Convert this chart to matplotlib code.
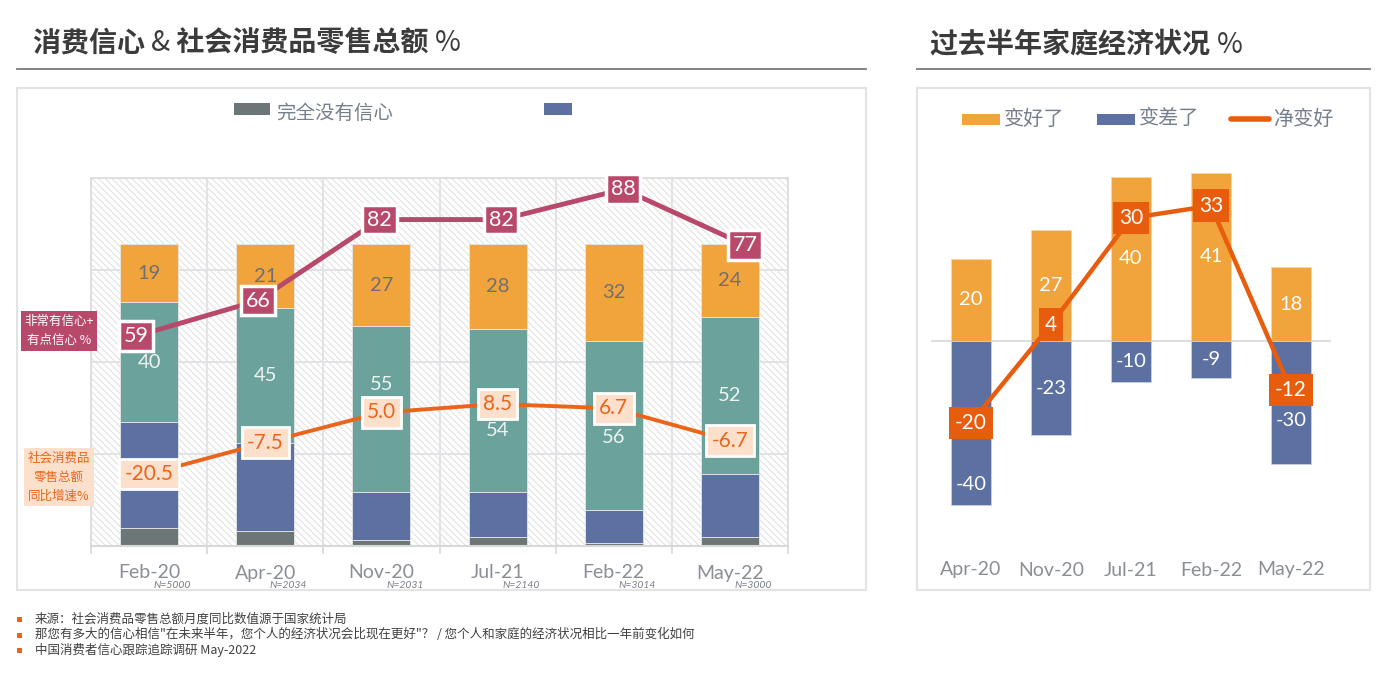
import matplotlib
matplotlib.use("Agg")
import matplotlib.pyplot as plt
from matplotlib.patches import Rectangle
from matplotlib.lines import Line2D
import numpy as np

plt.rcParams['font.family'] = ['Lato', 'Noto Sans CJK SC', 'DejaVu Sans']
plt.rcParams['hatch.linewidth'] = 0.8
plt.rcParams['hatch.color'] = '#e2e2e2'

# ---------------- data ----------------
left_cats = ["Feb-20", "Apr-20", "Nov-20", "Jul-21", "Feb-22", "May-22"]
left_n = ["N=5000", "N=2034", "N=2031", "N=2140", "N=3014", "N=3000"]
no_conf = [6, 5, 2, 3, 1, 3]          # 完全没有信心
low_conf = [35, 29, 16, 15, 11, 21]   # 不太有信心
some_conf = [40, 45, 55, 54, 56, 52]  # 有点信心
very_conf = [19, 21, 27, 28, 32, 24]  # 非常有信心
conf_total = [59, 66, 82, 82, 88, 77]
retail = [-20.5, -7.5, 5.0, 8.5, 6.7, -6.7]

right_cats = ["Apr-20", "Nov-20", "Jul-21", "Feb-22", "May-22"]
better = [20, 27, 40, 41, 18]
worse = [-40, -23, -10, -9, -30]
net = [-20, 4, 30, 33, -12]

footer = [
    "来源：社会消费品零售总额月度同比数值源于国家统计局",
    "那您有多大的信心相信\"在未来半年，您个人的经济状况会比现在更好\"？ / 您个人和家庭的经济状况相比一年前变化如何",
    "中国消费者信心跟踪追踪调研 May-2022",
]

# ---------------- styles ----------------
C_GRAY = '#6d7677'
C_BLUE = '#5c71a2'
C_TEAL = '#6ba39c'
C_ORANGE = '#f1a33c'
C_MAG = '#b9496b'
C_RET = '#ea651b'
C_PEACH = '#fde0cc'
C_NET = '#e85c0e'
W, H = 1380, 690

fig = plt.figure(figsize=(13.8, 6.9), dpi=100)

def fx(x):
    return x / W

def fy(y):
    return 1 - y / H

# panel frames
for (x0, y0, x1, y1) in [(17, 88, 866, 590), (917, 88, 1370, 590)]:
    fig.patches.append(Rectangle((fx(x0), fy(y1)), fx(x1 - x0), (y1 - y0) / H,
                                 transform=fig.transFigure, fill=False,
                                 ec='#e3e3e3', lw=1.5))
# title underlines
for (x0, x1) in [(17, 866), (917, 1370)]:
    fig.lines.append(Line2D([fx(x0), fx(x1)], [fy(69), fy(69)],
                            transform=fig.transFigure, color='#7a7a7a', lw=1.3))

# titles composed of pieces
fig.canvas.draw()
renderer = fig.canvas.get_renderer()

def pieces(x, y, parts, size, color='#3b3b3b'):
    cur = x
    for txt, wt in parts:
        t = fig.text(fx(cur), fy(y), txt, fontsize=size, fontweight=wt, color=color,
                     family=['Noto Sans CJK SC', 'DejaVu Sans'], va='center', ha='left')
        bb = t.get_window_extent(renderer=renderer)
        cur += bb.width

pieces(33, 43, [("消费信心 ", 'bold'), ("&", 'light'), (" 社会消费品零售总额 ", 'bold'), ("%", 'light')], 20.2)
pieces(930, 45, [("过去半年家庭经济状况 ", 'bold'), ("%", 'light')], 20.2)

# ---------------- left chart ----------------
axL = fig.add_axes([fx(91), fy(546), fx(788 - 91), (546 - 178) / H])
x = np.arange(len(left_cats))
axL.set_xlim(-0.5, 5.5)
axL.set_ylim(0, 122)
axL.add_patch(Rectangle((0, 0), 1, 1, transform=axL.transAxes, fc='white',
                        ec='#e2e2e2', hatch='\\\\\\\\\\', lw=0, zorder=0))
axL.set_yticks(np.linspace(0, 122, 5))
axL.set_xticks(np.arange(-0.5, 6, 1.0))
axL.grid(True, color='#dfe1e4', lw=1.3, zorder=0.5)
axL.set_axisbelow(True)
axL.tick_params(axis='y', length=0, labelleft=False)
axL.tick_params(axis='x', length=6, color='#d8d8d8', width=1.2, labelbottom=False)
for s in ['left', 'right', 'top']:
    axL.spines[s].set_color('#dcdcdc')
    axL.spines[s].set_linewidth(1.2)
axL.spines['bottom'].set_color('#d8d8d8')
axL.spines['bottom'].set_linewidth(1.5)

bw = 0.5
b0 = np.zeros(len(x))
for vals, col in [(no_conf, C_GRAY), (low_conf, C_BLUE), (some_conf, C_TEAL), (very_conf, C_ORANGE)]:
    axL.bar(x, vals, bw, bottom=b0, color=col, ec='#e6e6e6', lw=0.6, zorder=2)
    b0 = b0 + np.array(vals)

# segment labels
base_some = np.array(no_conf) + np.array(low_conf)
some_off = [0, 0, 8, -6.6, -4, 0]
for i in range(len(x)):
    axL.text(x[i], base_some[i] + some_conf[i] / 2 + some_off[i], str(some_conf[i]),
             ha='center', va='center', fontsize=14.5, color='#eef3f2', zorder=3)
    top0 = base_some[i] + some_conf[i]
    axL.text(x[i], top0 + very_conf[i] / 2, str(very_conf[i]),
             ha='center', va='center', fontsize=14.5, color='#707070', zorder=3)

# retail growth line (category centers)
axR = axL.twinx()
axR.set_ylim(-50.4, 102.3)
axR.set_xlim(-0.5, 5.5)
axR.axis('off')
axR.plot(x, retail, color=C_RET, lw=2.8, zorder=4, solid_capstyle='round')
for i, v in enumerate(retail):
    axR.text(x[i], v, f"{v:.1f}", ha='center', va='center', fontsize=15, color=C_RET,
             bbox=dict(boxstyle='square,pad=0.25', fc=C_PEACH, ec='white', lw=2), zorder=5)

# confidence line (secondary x positions)
axC = fig.add_axes(axL.get_position(), sharex=None)
axC.set_xlim(-0.369, 5.353)
axC.set_ylim(17.6, 90.2)
axC.axis('off')
axC.patch.set_alpha(0)
axC.plot(np.arange(len(conf_total)), conf_total, color=C_MAG, lw=3.5, zorder=4)
for i, v in enumerate(conf_total):
    axC.text(i, v, str(v), ha='center', va='center', fontsize=15.5, color='white',
             bbox=dict(boxstyle='square,pad=0.22', fc=C_MAG, ec='white', lw=2.5), zorder=5)

# x tick labels with N
for i, c in enumerate(left_cats):
    xp = 91 + (i + 0.5) * (697 / 6)
    fig.text(fx(xp), fy(573), c, ha='center', va='center', fontsize=14, color='#8a8f96')
    fig.text(fx(xp + 42), fy(586), left_n[i], ha='right', va='center', fontsize=7.5,
             color='#7a7f86', style='italic')

# side labels
fig.text(fx(59), fy(331), "非常有信心+\n有点信心 %", ha='center', va='center', fontsize=9,
         color='white', family=['Noto Sans CJK SC', 'DejaVu Sans'], linespacing=1.6,
         bbox=dict(boxstyle='square,pad=0.3', fc=C_MAG, ec='none'))
fig.text(fx(59), fy(477), "社会消费品\n零售总额\n同比增速%", ha='center', va='center', fontsize=9,
         color=C_RET, family=['Noto Sans CJK SC', 'DejaVu Sans'], linespacing=1.6,
         bbox=dict(boxstyle='square,pad=0.3', fc=C_PEACH, ec='none'))

# left legend
fig.patches.append(Rectangle((fx(234), fy(115)), fx(36), 12 / H, transform=fig.transFigure,
                             fc=C_GRAY, ec='none'))
fig.text(fx(276), fy(113), "完全没有信心", ha='left', va='center', fontsize=14,
         color='#76808c', family=['Noto Sans CJK SC', 'DejaVu Sans'])
fig.patches.append(Rectangle((fx(544), fy(115)), fx(28), 12 / H, transform=fig.transFigure,
                             fc=C_BLUE, ec='none'))

# ---------------- right chart ----------------
ax2 = fig.add_axes([fx(931), fy(545), fx(400), (545 - 150) / H])
xr = np.arange(len(right_cats))
ax2.set_xlim(-0.5, 4.5)
ax2.set_ylim(-49.8, 46.6)
for s in ax2.spines.values():
    s.set_visible(False)
ax2.set_yticks([])
ax2.set_xticks([])
ax2.axhline(0, color='#dedede', lw=1.5, zorder=1)
ax2.bar(xr, better, 0.5, color=C_ORANGE, ec='#f7d7a8', lw=0.6, zorder=2)
ax2.bar(xr, worse, 0.5, color=C_BLUE, ec='#c8d0e2', lw=0.6, zorder=2)
worse_off = [15, 0, 0, 0, 4.3]
for i in range(len(xr)):
    ax2.text(xr[i], better[i] / 2, str(better[i]), ha='center', va='center', fontsize=14.5,
             color='white', zorder=3)
    ax2.text(xr[i], worse[i] / 2 - worse_off[i], str(worse[i]), ha='center', va='center',
             fontsize=14.5, color='white', zorder=3)
ax2.plot(xr, net, color=C_NET, lw=3.2, zorder=4)
for i, v in enumerate(net):
    ax2.text(xr[i], v, str(v), ha='center', va='center', fontsize=15, color='white',
             bbox=dict(boxstyle='square,pad=0.3', fc=C_NET, ec='none'), zorder=5)
for i, c in enumerate(right_cats):
    fig.text(fx(971 + 80 * i), fy(570), c, ha='center', va='center', fontsize=14,
             color='#8a8f96')

# right legend
leg_items = [(962, "变好了", C_ORANGE, 'bar'), (1097, "变差了", C_BLUE, 'bar'), (1231, "净变好", C_NET, 'line')]
for xx, lab, col, kind in leg_items:
    if kind == 'bar':
        fig.patches.append(Rectangle((fx(xx), fy(125)), fx(38), 11 / H, transform=fig.transFigure,
                                     fc=col, ec='none'))
    else:
        fig.lines.append(Line2D([fx(xx), fx(xx + 38)], [fy(119), fy(119)], transform=fig.transFigure,
                                color=col, lw=4, solid_capstyle='round'))
    fig.text(fx(xx + 42), fy(119), lab, ha='left', va='center', fontsize=14.5, color='#76808c',
             family=['Noto Sans CJK SC', 'DejaVu Sans'])

# footer
for k, line in enumerate(footer):
    yy = 619 + 15.5 * k
    fig.patches.append(Rectangle((fx(17), fy(yy + 3)), fx(5), 5 / H, transform=fig.transFigure,
                                 fc='#ea651b', ec='none'))
    fig.text(fx(35), fy(yy), line, ha='left', va='center', fontsize=9.0, color='#404040',
             family=['Noto Sans CJK SC', 'DejaVu Sans'])

fig.savefig("out.png", dpi=100)
